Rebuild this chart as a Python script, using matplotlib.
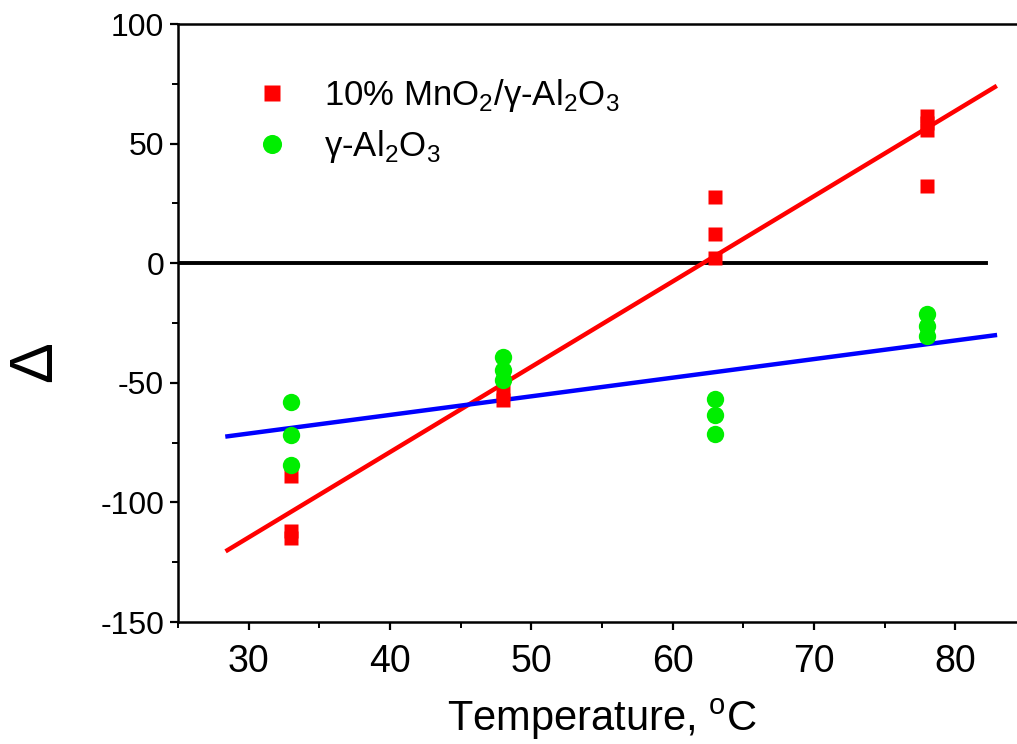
import numpy as np
import matplotlib
matplotlib.use("Agg")
import matplotlib.pyplot as plt
from matplotlib.ticker import MultipleLocator

# ---- data ----
temp_mn = [33, 33, 33, 48, 48, 63, 63, 63, 78, 78, 78, 78]
delta_mn = [-89, -112, -115, -54, -57, 27.5, 12.3, 2.2, 61.5, 58.5, 55.6, 32.1]

temp_al = [33, 33, 33, 48, 48, 48, 63, 63, 63, 78, 78, 78]
delta_al = [-58.2, -71.8, -84.2, -39.2, -44.7, -48.9, -56.7, -63.4, -71.4, -21.3, -26.2, -30.4]

fit_range = [28.5, 82.8]
zero_range = [25, 82.2]

label_mn = r"10% MnO$_\mathregular{2}$/γ-Al$_\mathregular{2}$O$_\mathregular{3}$"
label_al = r"γ-Al$_\mathregular{2}$O$_\mathregular{3}$"
x_label = r"Temperature, $^\mathregular{o}$C"
y_label = "Δ"

xlim = (25, 85)
ylim = (-150, 100)

# ---- figure ----
plt.rcParams["font.family"] = ["Liberation Sans", "DejaVu Sans"]
plt.rcParams["mathtext.fontset"] = "custom"
plt.rcParams["mathtext.rm"] = "Liberation Sans"
plt.rcParams["axes.unicode_minus"] = False

W, H = 1017, 744
fig = plt.figure(figsize=(W / 100, H / 100), dpi=100)
left, right, top, bottom = 178, 1026, 24, 622
ax = fig.add_axes([left / W, 1 - bottom / H, (right - left) / W, (bottom - top) / H])

ax.plot(zero_range, [0, 0], color="black", lw=2.8, zorder=2)

mn_fit = np.polyfit(temp_mn, delta_mn, 1)
al_fit = np.polyfit(temp_al, delta_al, 1)
fx = np.array(fit_range)
ax.plot(fx, np.polyval(mn_fit, fx), color="#ff0000", lw=3.2, zorder=3)
ax.plot(fx, np.polyval(al_fit, fx), color="#0000ff", lw=3.2, zorder=3)

h1, = ax.plot(temp_mn, delta_mn, "s", color="#ff0000", ms=10, mec="none", zorder=4, label=label_mn)
h2, = ax.plot(temp_al, delta_al, "o", color="#00ee00", ms=12.5, mec="none", zorder=4, label=label_al)

ax.set_xlim(*xlim)
ax.set_ylim(*ylim)
ax.xaxis.set_major_locator(MultipleLocator(10))
ax.xaxis.set_minor_locator(MultipleLocator(5))
ax.yaxis.set_major_locator(MultipleLocator(50))
ax.yaxis.set_minor_locator(MultipleLocator(25))

for s in ax.spines.values():
    s.set_linewidth(1.8)
ax.tick_params(which="major", direction="out", length=6, width=1.6)
ax.tick_params(which="minor", direction="out", length=4, width=1.4)
ax.tick_params(axis="y", labelsize=23, pad=4)
ax.tick_params(axis="x", labelsize=27, pad=10)

ax.set_xlabel(x_label, fontsize=30)
ax.xaxis.set_label_coords((602 - left) / (right - left), -(697 - bottom) / (bottom - top))
ax.set_ylabel(y_label, fontsize=44)
ax.yaxis.set_label_coords(-(178 - 64) / (right - left), (bottom - 362) / (bottom - top))

leg = ax.legend(handles=[h1, h2], loc="upper left",
                bbox_to_anchor=((251 - left) / (right - left), 1 - (77 - top) / (bottom - top)),
                frameon=False, fontsize=25, handlelength=1.2, handletextpad=0.9,
                labelspacing=0.4, borderpad=0, borderaxespad=0, markerscale=1.1)

fig.savefig("out.png", dpi=100)
